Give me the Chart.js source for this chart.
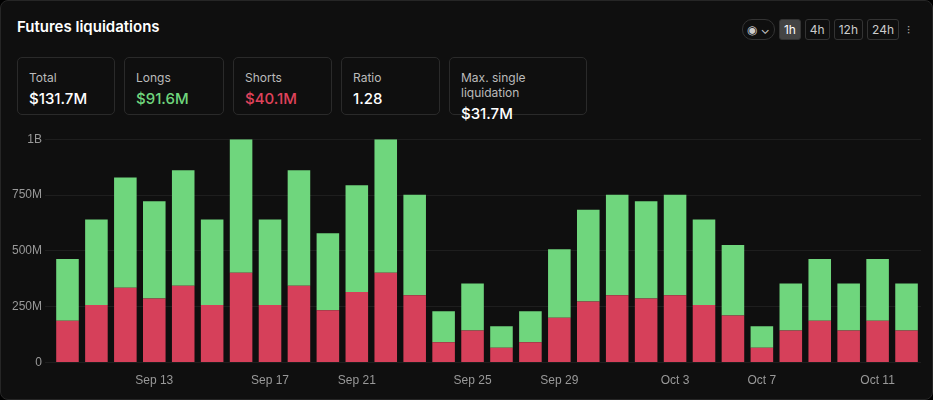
<!DOCTYPE html>
<html><head><meta charset="utf-8">
<script src="https://cdn.jsdelivr.net/npm/chart.js@4"></script>
<style>
body{margin:0;background:#000;font-family:Inter,"Noto Sans",sans-serif;color:#fff}
.card{position:absolute;left:0;top:0;width:931px;height:398px;background:#0f0f0f;border:1px solid #262626;border-radius:8px}
h1{position:absolute;left:16px;top:16px;margin:0;font-size:15px;font-weight:600}
.stats{position:absolute;left:16px;top:56px;display:flex;gap:9px}
.s{border:1px solid #2a2a2a;border-radius:5px;height:58px;padding:0 11px;box-sizing:border-box}
.s .l{font-size:12px;color:#bbb;margin-top:12px}
.s .v{font-size:15px;margin-top:4px;font-weight:500}
.ctrl{position:absolute;right:18px;top:18px;display:flex;gap:4px;font-size:12px;align-items:center}
.ctrl span{padding:2px 4px;border:1px solid #333;border-radius:3px;color:#ccc}
.ctrl .on{background:#444;color:#fff}
.wrap{position:absolute;left:8px;top:128px;width:912px;height:262px}
</style></head><body>
<div class="card">
<h1>Futures liquidations</h1>
<div class="ctrl"><span style="border-radius:10px">◉ ⌄</span><span class="on">1h</span><span>4h</span><span>12h</span><span>24h</span><span style="border:none">⫶</span></div>
<div class="stats">
<div class="s" style="width:98px"><div class="l">Total</div><div class="v">$131.7M</div></div>
<div class="s" style="width:100px"><div class="l">Longs</div><div class="v" style="color:#6fd67d">$91.6M</div></div>
<div class="s" style="width:99px"><div class="l">Shorts</div><div class="v" style="color:#e0435c">$40.1M</div></div>
<div class="s" style="width:99px"><div class="l">Ratio</div><div class="v">1.28</div></div>
<div class="s" style="width:138px"><div class="l">Max. single liquidation</div><div class="v">$31.7M</div></div>
</div>
<div class="wrap"><canvas id="c"></canvas></div>
</div>
<script>
const days = [];
for (let i = 0; i < 30; i++) { const d = new Date(2024, 8, 10 + i); days.push(d.toLocaleString('en-US',{month:'short'}) + ' ' + d.getDate()); }
const tickLabels = {3:'Sep 13',7:'Sep 17',10:'Sep 21',14:'Sep 25',17:'Sep 29',21:'Oct 3',24:'Oct 7',28:'Oct 11'};
const totals = [464,641,828,722,861,641,1000,641,861,579,794,1000,751,230,354,163,230,507,684,751,722,751,641,526,163,354,464,354,464,354];
const shorts = [187,258,335,287,344,258,402,258,344,234,316,402,301,91,144,67,91,201,273,301,287,301,258,211,67,144,187,144,187,144];
const longs = totals.map((t, i) => t - shorts[i]);

new Chart(document.getElementById('c'), {
  type: 'bar',
  data: {
    labels: days,
    datasets: [
      { label: 'Shorts', data: shorts, backgroundColor: '#d6405a' },
      { label: 'Longs', data: longs, backgroundColor: '#6fd67d' }
    ]
  },
  options: {
    responsive: true, maintainAspectRatio: false, animation: false,
    barPercentage: 0.78, categoryPercentage: 1,
    plugins: { legend: { display: false }, tooltip: { enabled: false } },
    scales: {
      x: { stacked: true, grid: { display: false }, border: { display: false },
        ticks: { color: '#999', font: { size: 12 }, autoSkip: false, maxRotation: 0,
          callback: (v, i) => tickLabels[i] || '' } },
      y: { stacked: true, min: 0, max: 1000, grid: { color: '#1e1e1e' }, border: { display: false },
        ticks: { stepSize: 250, color: '#999', font: { size: 12 },
          callback: v => v === 0 ? '0' : v === 1000 ? '1B' : v + 'M' } }
    }
  }
});
</script>
</body></html>
